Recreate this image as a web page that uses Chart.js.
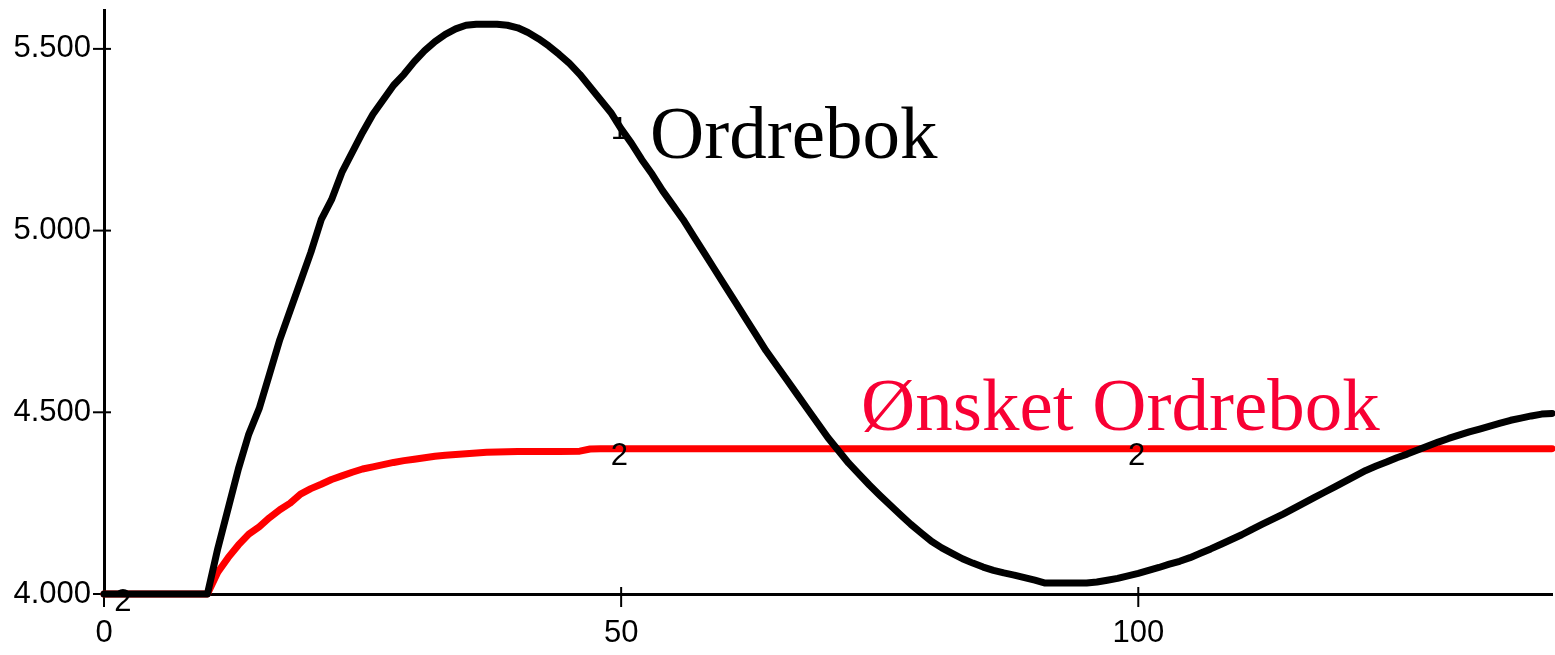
<!DOCTYPE html>
<html><head><meta charset="utf-8">
<script src="https://cdn.jsdelivr.net/npm/chart.js@4"></script>
<style>html,body{margin:0;padding:0;background:#fff}#wrap{width:1555px;height:655px;position:relative}</style>
</head><body><div id="wrap"><canvas id="c" width="1555" height="655"></canvas></div>
<script>
// ---- data ----
const seriesNames = ['Ordrebok', 'Ønsket Ordrebok'];
const ordrebokTimes = [0,10,11,12,13,14,15,16,17,18,19,20,21,22,23,24,25,26,27,28,29,30,31,32,33,34,35,36,37,38,39,40,41,42,43,44,45,46,47,48,49,50,51,52,53,54,55,56,57,58,59,60,61,62,63,64,65,66,67,68,69,70,71,72,73,74,75,76,77,78,79,80,81,82,83,84,85,86,87,88,89,90,91,92,93,94,95,96,97,98,99,100,101,102,103,104,105,106,107,108,109,110,111,112,113,114,115,116,117,118,119,120,121,122,123,124,125,126,127,128,129,130,131,132,133,134,135,136,137,138,139,140];
const ordrebokValues = [4000,4000,4125,4235,4345,4440,4510,4605,4700,4780,4860,4940,5030,5085,5160,5215,5270,5320,5360,5400,5430,5465,5495,5520,5540,5555,5565,5568,5568,5568,5565,5558,5545,5528,5508,5485,5460,5430,5395,5360,5325,5280,5240,5195,5155,5110,5070,5030,4985,4940,4895,4850,4805,4760,4715,4670,4630,4590,4550,4510,4470,4430,4395,4360,4330,4300,4272,4245,4218,4192,4168,4145,4127,4112,4097,4085,4074,4065,4058,4052,4045,4038,4030,4030,4030,4030,4030,4033,4038,4043,4050,4057,4065,4073,4082,4090,4100,4112,4124,4137,4150,4163,4178,4192,4206,4220,4235,4250,4265,4280,4295,4310,4325,4340,4352,4363,4375,4385,4396,4407,4418,4428,4437,4446,4454,4462,4470,4478,4484,4490,4495,4497];
const onsketTimes = [0,10,11,12,13,14,15,16,17,18,19,20,21,22,23,24,25,26,27,28,29,30,31,32,33,34,35,36,37,38,40,42,44,46,47,48,140];
const onsketValues = [4000,4000,4060,4100,4135,4165,4185,4210,4232,4250,4275,4290,4302,4315,4325,4335,4344,4350,4356,4362,4367,4371,4375,4379,4382,4384,4386,4388,4390,4391,4392,4392,4392,4393,4399,4400,4400];
const xTickValues = [0, 50, 100];
const yTickValues = [4000, 4500, 5000, 5500];
const marker1Times = [49];        // "1" line markers on Ordrebok
const marker2Times = [1, 49, 99]; // "2" line markers on Ønsket Ordrebok

function fmt(v){ return String(v).replace(/\B(?=(\d{3})+(?!\d))/g, '.'); }
function interp(ts, vs, t){
  for (let i = 1; i < ts.length; i++) {
    if (t <= ts[i]) { const f = (t - ts[i-1]) / (ts[i] - ts[i-1]); return vs[i-1] + f * (vs[i] - vs[i-1]); }
  }
  return vs[vs.length-1];
}

const overlay = {
  id: 'overlay',
  beforeDatasetsDraw(chart){
    const ctx = chart.ctx, xs = chart.scales.x, ys = chart.scales.y;
    ctx.save(); ctx.strokeStyle = '#000'; ctx.lineWidth = 2;
    xTickValues.forEach(v => { const p = xs.getPixelForValue(v); ctx.beginPath(); ctx.moveTo(p, ys.bottom - 7); ctx.lineTo(p, ys.bottom + 13); ctx.stroke(); });
    yTickValues.forEach(v => { const p = ys.getPixelForValue(v); ctx.beginPath(); ctx.moveTo(xs.left - 11, p); ctx.lineTo(xs.left + 7, p); ctx.stroke(); });
    ctx.restore();
  },
  afterDatasetDraw(chart, args){
    if (args.index !== 1) return;
    const ctx = chart.ctx, xs = chart.scales.x, ys = chart.scales.y;
    ctx.save(); ctx.fillStyle = '#000'; ctx.font = '31px "Liberation Sans", Arial, sans-serif';
    ctx.textAlign = 'left'; ctx.textBaseline = 'middle';
    marker2Times.forEach(t => ctx.fillText('2', xs.getPixelForValue(t), ys.getPixelForValue(interp(onsketTimes, onsketValues, t)) + 8));
    marker1Times.forEach(t => ctx.fillText('1', xs.getPixelForValue(t), ys.getPixelForValue(interp(ordrebokTimes, ordrebokValues, t)) + 18));
    ctx.restore();
  },
  afterDraw(chart){
    const ctx = chart.ctx, xs = chart.scales.x, ys = chart.scales.y;
    ctx.save(); ctx.font = '75px "Liberation Serif", "Times New Roman", serif';
    ctx.textAlign = 'left'; ctx.textBaseline = 'alphabetic';
    ctx.fillStyle = '#000';
    ctx.fillText(seriesNames[0], xs.getPixelForValue(52.8), ys.getPixelForValue(5200));
    ctx.fillStyle = '#f80034';
    ctx.fillText(seriesNames[1], xs.getPixelForValue(73.2), ys.getPixelForValue(4451));
    ctx.restore();
  }
};

const lineStyle = { borderWidth: 7, pointRadius: 0, tension: 0, borderCapStyle: 'round', borderJoinStyle: 'round', clip: false, fill: false };

new Chart(document.getElementById('c'), {
  type: 'line',
  data: {
    datasets: [
      Object.assign({ label: seriesNames[0], data: ordrebokTimes.map((t,i)=>({x:t, y:ordrebokValues[i]})), borderColor: '#000' }, lineStyle),
      Object.assign({ label: seriesNames[1], data: onsketTimes.map((t,i)=>({x:t, y:onsketValues[i]})), borderColor: '#ff0000' }, lineStyle)
    ]
  },
  options: {
    responsive: false, animation: false, devicePixelRatio: 1,
    layout: { padding: { left: 0, right: 3, top: 10, bottom: 0 } },
    plugins: { legend: { display: false }, tooltip: { enabled: false } },
    scales: {
      x: {
        type: 'linear', min: 0, max: 140,
        afterBuildTicks: s => { s.ticks = xTickValues.map(v => ({ value: v })); },
        afterFit: s => { s.height = 61; s.paddingLeft = 0; s.paddingRight = 0; },
        grid: { display: false, drawTicks: false },
        border: { display: true, color: '#000', width: 3 },
        ticks: { color: '#000', padding: 21, maxRotation: 0, autoSkip: false, font: { family: '"Liberation Sans", Arial, sans-serif', size: 31 }, callback: v => fmt(v) }
      },
      y: {
        type: 'linear', min: 4000, max: 5607,
        afterBuildTicks: s => { s.ticks = yTickValues.map(v => ({ value: v })); },
        afterFit: s => { s.width = 104; s.paddingTop = 0; s.paddingBottom = 0; },
        grid: { display: false, drawTicks: false },
        border: { display: true, color: '#000', width: 3 },
        ticks: { color: '#000', padding: 13, autoSkip: false, font: { family: '"Liberation Sans", Arial, sans-serif', size: 31 }, callback: v => fmt(v) }
      }
    }
  },
  plugins: [overlay]
});
</script>
</body></html>
